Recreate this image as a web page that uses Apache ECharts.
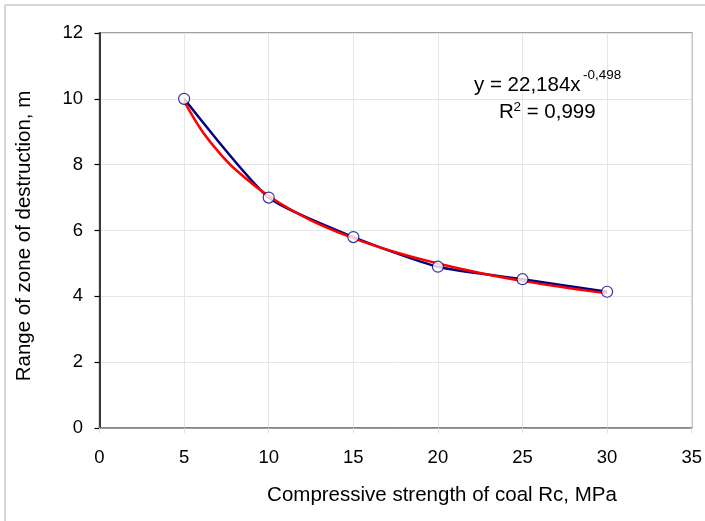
<!DOCTYPE html>
<html><head><meta charset="utf-8">
<script src="https://cdn.jsdelivr.net/npm/echarts@6/dist/echarts.min.js"></script>
<style>html,body{margin:0;padding:0;background:#fff}#c{width:705px;height:521px}</style>
</head><body><div id="c"></div>
<script>
const strengthX = [5, 10, 15, 20, 25, 30];
const rangeY = [10.0, 7.0, 5.8, 4.9, 4.52, 4.14];
const trendX = [5, 6, 7, 8, 10, 12.5, 15, 17.5, 20, 22.5, 25, 27.5, 30];
const trendY = [9.93, 9.07, 8.41, 7.87, 7.05, 6.31, 5.77, 5.34, 5.0, 4.71, 4.47, 4.27, 4.09];
const xTicks = [0, 5, 10, 15, 20, 25, 30, 35];
const yTicks = [0, 2, 4, 6, 8, 10, 12];
const xTitle = 'Compressive strength of coal Rc, MPa';
const yTitle = 'Range of zone of destruction, m';

const F = 'Liberation Sans, Arial, sans-serif';
const txt = (x, y, s, size, align, rot) => ({type: 'text', x: x, y: y, z: 10, rotation: rot || 0,
  style: {text: s, fontSize: size, fontFamily: F, fill: '#000', textAlign: align || 'left', textVerticalAlign: 'middle'}});
const chart = echarts.init(document.getElementById('c'));
chart.setOption({
  animation: false,
  backgroundColor: '#fff',
  textStyle: {fontFamily: F},
  grid: {left: 99.5, top: 33, width: 592.5, height: 395, show: true, borderColor: '#808080', borderWidth: 1.5, backgroundColor: 'transparent'},
  graphic: [
    {type: 'line', shape: {x1: 5, y1: 5, x2: 705, y2: 5}, style: {stroke: '#c8c8c8', lineWidth: 1.5}},
    {type: 'line', shape: {x1: 5, y1: 5, x2: 5, y2: 521}, style: {stroke: '#c8c8c8', lineWidth: 1.5}},
    txt(442, 495, xTitle, 20.5, 'center'),
    txt(24, 236, yTitle, 20.5, 'center', Math.PI / 2),
    txt(474, 85, 'y = 22,184x', 20.5),
    txt(583, 75, '-0,498', 13.5),
    txt(499, 112, 'R', 20.5),
    txt(513.5, 107, '2', 13.5),
    txt(521, 112, ' = 0,999', 20.5)
  ],
  xAxis: {
    type: 'value', min: xTicks[0], max: xTicks[xTicks.length - 1], interval: 5,
    axisLine: {show: true, lineStyle: {color: '#808080', width: 1.5}},
    axisTick: {show: true, length: 5, lineStyle: {color: '#e0e0e0'}},
    axisLabel: {fontSize: 18.5, color: '#000', margin: 20, fontFamily: F},
    splitLine: {show: true, lineStyle: {color: '#e6e6e6', width: 1}}
  },
  yAxis: {
    type: 'value', min: yTicks[0], max: yTicks[yTicks.length - 1], interval: 2,
    axisLine: {show: true, lineStyle: {color: '#000', width: 1.5}},
    axisTick: {show: true, length: 5, lineStyle: {color: '#000', width: 1.2}},
    axisLabel: {fontSize: 18.5, color: '#000', margin: 16.5, fontFamily: F},
    splitLine: {show: true, lineStyle: {color: '#e6e6e6', width: 1}}
  },
  series: [
    {type: 'line', data: strengthX.map((x, i) => [x, rangeY[i]]), smooth: 0.2, showSymbol: false,
     lineStyle: {color: '#000080', width: 2.5}, z: 2},
    {type: 'line', data: trendX.map((x, i) => [x, trendY[i]]), smooth: 0.4, showSymbol: false,
     lineStyle: {color: '#ff0000', width: 2.5}, z: 3},
    {type: 'scatter', data: strengthX.map((x, i) => [x, rangeY[i]]), symbol: 'circle', symbolSize: 11,
     itemStyle: {color: '#fff', borderColor: '#000080', borderWidth: 1.2}, z: 4}
  ]
});
</script></body></html>
